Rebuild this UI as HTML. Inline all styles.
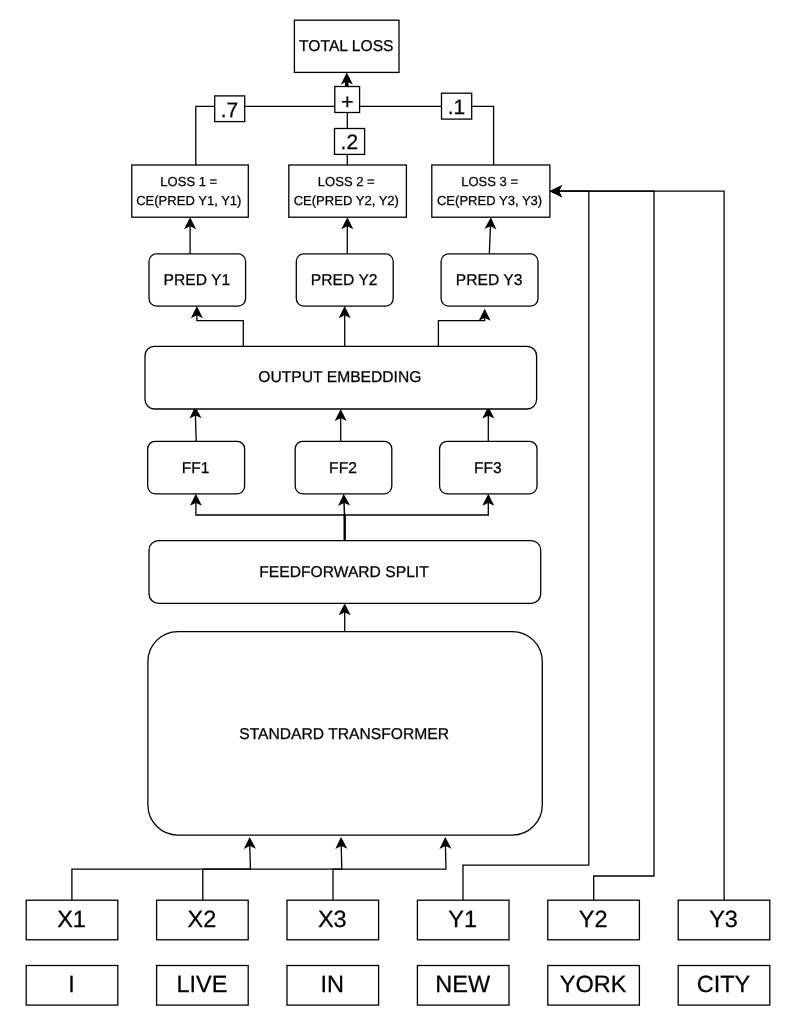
<!DOCTYPE html>
<html lang="en">
<head>
<meta charset="utf-8">
<title>Multi-token loss diagram</title>
<style>
html,body{margin:0;padding:0;background:#fff;}
body{width:793px;height:1024px;overflow:hidden;}
svg{display:block;will-change:transform;}
svg rect,svg path{fill:none;stroke:#000;stroke-width:1.3;stroke-miterlimit:10;}
svg rect{fill:#fff;}
svg path.ah{fill:#000;}
svg text{text-rendering:geometricPrecision;stroke:#000;stroke-width:0.25px;font-family:"Liberation Sans",Arial,Helvetica,sans-serif;fill:#000;text-anchor:middle;}
</style>
</head>
<body>
<svg width="793" height="1024" viewBox="0 0 793 1024">
<rect x="0" y="0" width="793" height="1024" style="fill:#fff;stroke:none"/>
<g>
<path d="M195.8 165.0 L195.8 106.4 L214.0 106.4"/>
<path d="M245.3 106.4 L334.8 106.4"/>
<path d="M359.6 106.4 L441.4 106.4"/>
<path d="M472.2 106.4 L493.6 106.4 L493.6 165.0"/>
<path d="M347.3 112.5 L347.3 128.5"/>
<path d="M347.3 154.4 L347.3 165.0"/>
<path d="M346.8 86.5 L346.8 80.7" style="stroke-width:3.6"/>
<path class="ah" d="M346.80 73.86 L351.36 82.99 L346.80 80.70 L342.24 82.99 Z"/>
<path d="M190.1 253.9 L190.1 225.5"/>
<path class="ah" d="M190.10 218.66 L194.66 227.79 L190.10 225.50 L185.54 227.79 Z"/>
<path d="M347.3 253.9 L347.3 225.5"/>
<path class="ah" d="M347.30 218.66 L351.86 227.79 L347.30 225.50 L342.74 227.79 Z"/>
<path d="M489.3 253.9 L490.5 225.5"/>
<path class="ah" d="M490.84 218.66 L495.00 227.97 L490.54 225.50 L485.88 227.58 Z"/>
<path d="M243.3 346.3 L243.3 320.6 L196.9 320.6 L196.9 314.4"/>
<path class="ah" d="M196.90 307.56 L201.46 316.69 L196.90 314.40 L192.34 316.69 Z"/>
<path d="M344.7 346.3 L344.7 314.4"/>
<path class="ah" d="M344.70 307.56 L349.26 316.69 L344.70 314.40 L340.14 316.69 Z"/>
<path d="M438.4 346.3 L438.4 320.6 L484.7 320.6 L484.7 317.1"/>
<path class="ah" d="M484.70 310.26 L489.26 319.39 L484.70 317.10 L480.14 319.39 Z"/>
<path d="M196.2 441.3 L195.4 414.6"/>
<path class="ah" d="M195.24 407.76 L200.06 416.75 L195.44 414.60 L190.94 417.01 Z"/>
<path d="M340.7 441.3 L340.7 417.3"/>
<path class="ah" d="M340.70 410.46 L345.26 419.59 L340.70 417.30 L336.14 419.59 Z"/>
<path d="M488.3 441.3 L488.3 414.8"/>
<path class="ah" d="M488.30 407.96 L492.86 417.09 L488.30 414.80 L483.74 417.09 Z"/>
<path d="M344.7 540.6 L344.7 515.0 L195.9 515.0 L195.9 502.1"/>
<path class="ah" d="M195.90 495.26 L200.46 504.39 L195.90 502.10 L191.34 504.39 Z"/>
<path d="M344.7 540.6 L344.6 515.0" style="stroke-width:2.3"/>
<path d="M344.5 516.0 L344.0 502.1" style="stroke-width:1.5"/>
<path class="ah" d="M343.75 495.26 L348.64 504.21 L344.00 502.10 L339.52 504.54 Z"/>
<path d="M344.7 540.6 L344.7 515.0 L488.3 515.0 L488.3 502.1"/>
<path class="ah" d="M488.30 495.26 L492.86 504.39 L488.30 502.10 L483.74 504.39 Z"/>
<path d="M344.7 631.6 L344.7 611.6"/>
<path class="ah" d="M344.70 604.76 L349.26 613.89 L344.70 611.60 L340.14 613.89 Z"/>
<path d="M71.9 900.2 L71.9 869.1 L250.4 869.1 L249.8 845.2"/>
<path class="ah" d="M249.64 838.36 L254.43 847.37 L249.81 845.20 L245.30 847.60 Z"/>
<path d="M202.8 900.2 L202.8 869.1 L341.8 869.1 L341.2 845.2"/>
<path class="ah" d="M341.04 838.36 L345.83 847.37 L341.21 845.20 L336.70 847.60 Z"/>
<path d="M333.0 900.2 L333.0 869.1 L446.0 869.1 L445.4 845.2"/>
<path class="ah" d="M445.24 838.36 L450.03 847.37 L445.41 845.20 L440.90 847.60 Z"/>
<path d="M463.0 900.2 L463.0 865.1 L588.8 865.1 L588.8 191.2 L558.2 191.2"/>
<path class="ah" d="M551.36 191.20 L560.49 186.64 L558.20 191.20 L560.49 195.76 Z"/>
<path d="M593.7 900.2 L593.7 876.0 L654.0 876.0 L654.0 191.2 L558.2 191.2"/>
<path class="ah" d="M551.36 191.20 L560.49 186.64 L558.20 191.20 L560.49 195.76 Z"/>
<path d="M724.1 900.2 L724.1 191.2 L558.2 191.2"/>
<path class="ah" d="M551.36 191.20 L560.49 186.64 L558.20 191.20 L560.49 195.76 Z"/>
</g>
<g>
<rect x="294.4" y="20.2" width="104.6" height="52.2"/>
<rect x="334.8" y="86.5" width="24.8" height="26.0"/>
<rect x="214.7" y="95.9" width="30.0" height="25.7"/>
<rect x="334.5" y="128.5" width="30.1" height="25.9"/>
<rect x="441.5" y="93.2" width="30.2" height="25.9"/>
<rect x="131.8" y="165.0" width="116.5" height="52.2"/>
<rect x="288.8" y="165.0" width="117.6" height="52.2"/>
<rect x="431.8" y="165.0" width="118.1" height="52.2"/>
<rect x="149.0" y="253.9" width="96.6" height="52.2" rx="7.5"/>
<rect x="296.3" y="253.9" width="96.9" height="52.2" rx="7.5"/>
<rect x="441.1" y="253.9" width="96.9" height="52.2" rx="7.5"/>
<rect x="145.0" y="346.3" width="391.6" height="62.7" rx="9.5"/>
<rect x="147.7" y="441.3" width="96.9" height="52.5" rx="7.5"/>
<rect x="295.2" y="441.3" width="96.6" height="52.5" rx="7.5"/>
<rect x="439.6" y="441.3" width="97.4" height="52.5" rx="7.5"/>
<rect x="149.0" y="540.6" width="391.7" height="62.7" rx="9.5"/>
<rect x="147.9" y="631.6" width="394.4" height="203.5" rx="30"/>
<rect x="26.2" y="900.2" width="91.6" height="39.6"/>
<rect x="26.2" y="965.5" width="91.6" height="39.6"/>
<rect x="156.6" y="900.2" width="91.6" height="39.6"/>
<rect x="156.6" y="965.5" width="91.6" height="39.6"/>
<rect x="287.0" y="900.2" width="91.6" height="39.6"/>
<rect x="287.0" y="965.5" width="91.6" height="39.6"/>
<rect x="417.4" y="900.2" width="91.6" height="39.6"/>
<rect x="417.4" y="965.5" width="91.6" height="39.6"/>
<rect x="547.8" y="900.2" width="91.6" height="39.6"/>
<rect x="547.8" y="965.5" width="91.6" height="39.6"/>
<rect x="678.2" y="900.2" width="91.6" height="39.6"/>
<rect x="678.2" y="965.5" width="91.6" height="39.6"/>
</g>
<g>
<text x="346.3" y="51.0" font-size="15.65">TOTAL LOSS</text>
<text x="347.3" y="108.8" font-size="21.6">+</text>
<text x="229.4" y="116.5" font-size="20.9">.7</text>
<text x="349.3" y="149.2" font-size="20.9">.2</text>
<text x="456.5" y="113.9" font-size="20.9">.1</text>
<text x="188.8" y="186.0" font-size="13.04">LOSS 1 =</text>
<text x="188.8" y="204.7" font-size="13.04">CE(PRED Y1, Y1)</text>
<text x="346.3" y="186.0" font-size="13.04">LOSS 2 =</text>
<text x="346.3" y="204.7" font-size="13.04">CE(PRED Y2, Y2)</text>
<text x="489.6" y="186.0" font-size="13.04">LOSS 3 =</text>
<text x="489.6" y="204.7" font-size="13.04">CE(PRED Y3, Y3)</text>
<text x="196.8" y="284.8" font-size="15.65">PRED Y1</text>
<text x="344.2" y="284.8" font-size="15.65">PRED Y2</text>
<text x="489.1" y="284.8" font-size="15.65">PRED Y3</text>
<text x="339.9" y="382.1" font-size="15.65">OUTPUT EMBEDDING</text>
<text x="195.6" y="472.7" font-size="15.65">FF1</text>
<text x="343.0" y="472.7" font-size="15.65">FF2</text>
<text x="487.8" y="472.7" font-size="15.65">FF3</text>
<text x="344.0" y="577.0" font-size="15.65">FEEDFORWARD SPLIT</text>
<text x="344.1" y="738.6" font-size="15.65">STANDARD TRANSFORMER</text>
<text x="71.5" y="926.6" font-size="23.5">X1</text>
<text x="71.5" y="992.1" font-size="23.5">I</text>
<text x="201.9" y="926.6" font-size="23.5">X2</text>
<text x="201.9" y="992.1" font-size="23.5">LIVE</text>
<text x="332.3" y="926.6" font-size="23.5">X3</text>
<text x="332.3" y="992.1" font-size="23.5">IN</text>
<text x="462.7" y="926.6" font-size="23.5">Y1</text>
<text x="462.7" y="992.1" font-size="23.5">NEW</text>
<text x="593.1" y="926.6" font-size="23.5">Y2</text>
<text x="593.1" y="992.1" font-size="23.5">YORK</text>
<text x="723.5" y="926.6" font-size="23.5">Y3</text>
<text x="723.5" y="992.1" font-size="23.5">CITY</text>
</g>
</svg>
</body>
</html>
